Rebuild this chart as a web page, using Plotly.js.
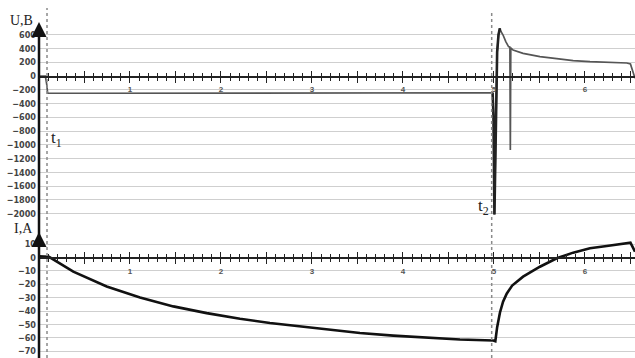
<!DOCTYPE html>
<html>
<head>
<meta charset="utf-8">
<script src="https://cdn.plot.ly/plotly-3.0.1.min.js"></script>
<style>html,body{margin:0;padding:0;background:#fff}#chart{width:635px;height:358px}</style>
</head>
<body>
<div id="chart"></div>
<script>
// Voltage U (V) versus time
const tU = [0, 0.07, 0.085, 0.095, 0.5, 1, 2, 3, 4, 4.6, 4.985, 4.995, 5.005, 5.015, 5.025, 5.035, 5.05, 5.065, 5.08, 5.10, 5.13, 5.16, 5.175, 5.18, 5.185, 5.21, 5.32, 5.505, 5.69, 5.87, 6.055, 6.24, 6.46, 6.50, 6.53, 6.55];
const U  = [0, 0, -120, -250, -250, -250, -248, -247, -245, -244, -243, -600, -2010, -1200, -100, 350, 600, 694, 640, 596, 500, 427, 420, -1076, 410, 378, 330, 281, 252, 223, 208, 199, 189, 175, 63, -33];

// Current I (A) versus time
const tI = [0, 0.11, 0.377, 0.744, 1.11, 1.476, 1.843, 2.209, 2.538, 2.795, 3.162, 3.527, 3.893, 4.26, 4.626, 4.992, 5.015, 5.035, 5.066, 5.10, 5.14, 5.20, 5.32, 5.505, 5.69, 5.87, 6.055, 6.24, 6.46, 6.50, 6.55];
const I  = [0.8, 0.5, -10.6, -21.7, -29.9, -36.5, -41.5, -45.7, -48.9, -50.9, -53.8, -56.3, -58.3, -60, -61.2, -62, -62.5, -52, -41, -33, -27, -21, -14.3, -6.9, -0.6, 3.6, 6.9, 8.6, 10.6, 11, 4.3];

const uTicks = [600, 400, 200, 0, -200, -400, -600, -800, -1000, -1200, -1400, -1600, -1800, -2000];
const iTicks = [10, 0, -10, -20, -30, -40, -50, -60, -70];
const xMajor = [0.5, 1, 1.5, 2, 2.5, 3, 3.5, 4, 4.5, 5, 5.5, 6, 6.5];
const xLabels = ['', '1', '', '2', '', '3', '', '4', '', '5', '', '6', ''];

const xRange = [0, 6.55];
const uRange = [-2150, 785];
const iRange = [-75, 19];
const topDom = [0.3988, 1];
const botDom = [0, 0.375];

function zeroPos(dom, rng) {
  return dom[0] + (0 - rng[0]) / (rng[1] - rng[0]) * (dom[1] - dom[0]);
}
const pTop = zeroPos(topDom, uRange);
const pBot = zeroPos(botDom, iRange);

// transient part of U (thicker stroke), sliced from the arrays
const iA = tU.indexOf(4.985), iB = tU.indexOf(5.065);
const tUfast = tU.slice(iA, iB + 1), Ufast = U.slice(iA, iB + 1);

const tickFontY = {family: 'DejaVu Sans Condensed, Liberation Sans Narrow, Arial, sans-serif', size: 9, color: '#444', weight: 'bold'};
const tickFontX = {family: 'Liberation Sans, Arial, sans-serif', size: 8, color: '#555', weight: 'bold'};

function mainX(pos) {
  return {
    range: xRange, domain: [0, 1], anchor: 'free', position: pos,
    showline: true, linecolor: '#222', linewidth: 1.5,
    ticks: 'outside', ticklen: 5, tickwidth: 1, tickcolor: '#222',
    tickmode: 'array', tickvals: xMajor, ticktext: xLabels,
    minor: {tickmode: 'linear', tick0: 0, dtick: 0.1, ticks: 'outside', ticklen: 3, tickwidth: 1, tickcolor: '#222'},
    showgrid: false, zeroline: false, tickfont: tickFontX, fixedrange: true
  };
}
function overX(over, pos) {
  return {
    overlaying: over, range: xRange, domain: [0, 1], anchor: 'free', position: pos,
    showline: false, ticks: 'inside', ticklen: 5, tickwidth: 1, tickcolor: '#222',
    tickmode: 'array', tickvals: xMajor, showticklabels: false,
    minor: {tickmode: 'linear', tick0: 0, dtick: 0.1, ticks: 'inside', ticklen: 3, tickwidth: 1, tickcolor: '#222'},
    showgrid: false, zeroline: false
  };
}
function yAx(dom, rng, vals, anchor) {
  return {
    domain: dom, range: rng, anchor: anchor, tickmode: 'array', tickvals: vals,
    showgrid: true, gridcolor: '#cfcfcf', gridwidth: 1, zeroline: false, showline: false,
    ticks: '', tickfont: tickFontY, ticklabelstandoff: 2, fixedrange: true
  };
}

const data = [
  {x: tU, y: U, xaxis: 'x', yaxis: 'y', mode: 'lines', line: {color: '#555', width: 1.7}, hoverinfo: 'skip'},
  {x: tUfast, y: Ufast, xaxis: 'x', yaxis: 'y', mode: 'lines', line: {color: '#222', width: 2.6}, hoverinfo: 'skip'},
  {x: tI, y: I, xaxis: 'x2', yaxis: 'y2', mode: 'lines', line: {color: '#111', width: 2.6}, hoverinfo: 'skip'},
  {x: [null], y: [null], xaxis: 'x3', yaxis: 'y', mode: 'lines', hoverinfo: 'skip'},
  {x: [null], y: [null], xaxis: 'x4', yaxis: 'y2', mode: 'lines', hoverinfo: 'skip'}
];

const serif = {family: 'Liberation Serif, Times New Roman, serif', size: 14, color: '#222'};

const layout = {
  width: 635, height: 358,
  margin: {l: 39, r: 0, t: 22, b: 0},
  paper_bgcolor: '#fff', plot_bgcolor: '#fff',
  showlegend: false,
  xaxis: mainX(pTop),
  xaxis2: mainX(pBot),
  xaxis3: overX('x', pTop),
  xaxis4: overX('x2', pBot),
  yaxis: yAx(topDom, uRange, uTicks, 'x'),
  yaxis2: yAx(botDom, iRange, iTicks, 'x2'),
  shapes: [
    {type: 'line', xref: 'x', yref: 'paper', x0: 0.088, x1: 0.088, y0: 0, y1: 1.042, line: {color: '#8a8a8a', width: 1.5, dash: 'dot'}},
    {type: 'line', xref: 'x', yref: 'paper', x0: 4.975, x1: 4.975, y0: 0, y1: 1.03, line: {color: '#8a8a8a', width: 1.5, dash: 'dot'}},
    {type: 'line', xref: 'paper', yref: 'paper', x0: 0, x1: 0, y0: 0, y1: 0.985, line: {color: '#111', width: 2.5}}
  ],
  annotations: [
    {xref: 'paper', yref: 'paper', x: 0, y: 1, ax: 0, ay: 14, text: '', showarrow: true, arrowhead: 2, arrowsize: 1.2, arrowwidth: 2.5, arrowcolor: '#111'},
    {xref: 'paper', yref: 'paper', x: 0, y: botDom[1], ax: 0, ay: 12, text: '', showarrow: true, arrowhead: 2, arrowsize: 1.2, arrowwidth: 2.5, arrowcolor: '#111'},
    {xref: 'paper', yref: 'paper', x: 0, y: 1, xanchor: 'right', yanchor: 'middle', xshift: -4, yshift: 2, text: 'U,B', showarrow: false, font: serif},
    {xref: 'paper', yref: 'paper', x: 0, y: botDom[1], xanchor: 'right', yanchor: 'middle', xshift: -4, yshift: 4, text: 'I,A', showarrow: false, font: serif},
    {xref: 'x', yref: 'y', x: 0.11, y: -920, xanchor: 'left', yanchor: 'middle', text: 't<sub>1</sub>', showarrow: false, font: {family: 'Liberation Serif, serif', size: 17, color: '#222'}},
    {xref: 'x', yref: 'y', x: 4.965, y: -1900, xanchor: 'right', yanchor: 'middle', text: 't<sub>2</sub>', showarrow: false, font: {family: 'Liberation Serif, serif', size: 17, color: '#222'}}
  ]
};

Plotly.newPlot('chart', data, layout, {displayModeBar: false, staticPlot: true});
</script>
</body>
</html>
